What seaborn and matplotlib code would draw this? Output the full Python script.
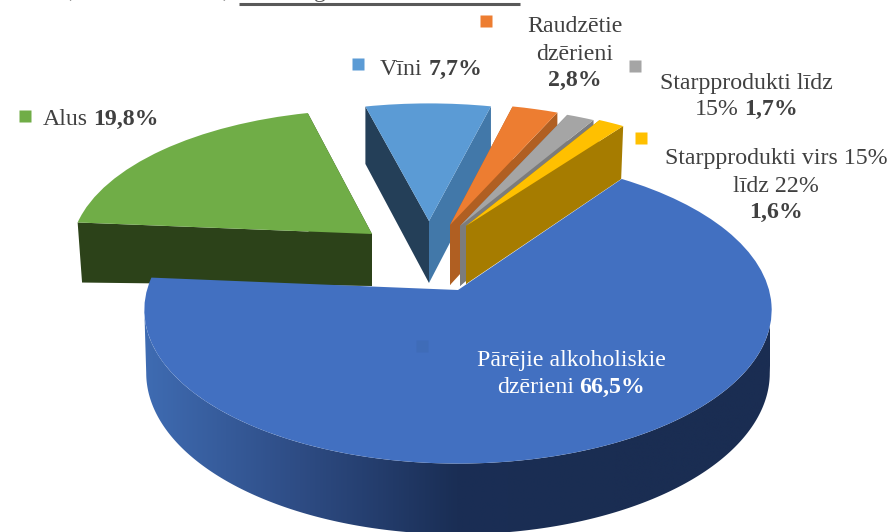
import matplotlib
matplotlib.use("Agg")
import matplotlib.pyplot as plt
import numpy as np
import seaborn as sns
from matplotlib.patches import Polygon
from matplotlib.transforms import Transform

# Shares as printed on the chart, clockwise from the big slice
labels = ["Pārējie alkoholiskie dzērieni", "Alus", "Vīni", "Raudzētie dzērieni",
          "Starpprodukti līdz 15%", "Starpprodukti virs 15% līdz 22%"]
shares = [66.5, 19.8, 7.7, 2.8, 1.7, 1.6]
top_colors = ["#4270c1", "#70ad47", "#5b9bd5", "#ed7d31", "#a5a5a5", "#ffc000"]
wall_lo_colors = ["#2f5597", "#2c4219", "#4278a9", "#b05f22", "#7c7c7c", "#a67c00"]
wall_hi_colors = ["#2f5597", "#2c4219", "#243f58", "#b05f22", "#7c7c7c", "#a67c00"]

# Fake 3D layout, in pixels: where each slice's tip sits and how it is squashed
START_ANGLE = 54.4
TILT = 0.13
RX, RY = 311, 151
TIP_X = [458, 372, 429, 450, 460, 466]
TIP_Y = [290, 234, 221, 225, 226, 226]
SCALE_X = [1.0, 0.96, 0.95, 0.96, 0.96, 0.96]
SCALE_Y = [1.0, 0.93, 0.88, 0.91, 0.90, 0.90]
DEPTH = [62, 52, 62, 60, 60, 58]
BOTTOM_SX = [0.994, 0.985, 1.0, 1.0, 1.0, 0.987]
BOTTOM_SY = [1.05, 0.3, 1.04, 1.04, 1.04, 1.05]
DRAW_ORDER = [1, 2, 3, 4, 5, 0]

TEXT_COLOR = "#404040"
FONT = "Liberation Serif"
FONT_SIZE = 17.2


class SliceProjection(Transform):
    """Unit pie coordinates to pixels, with a little perspective."""
    input_dims = 2
    output_dims = 2

    def __init__(self, tip_x, tip_y, sx, sy):
        super().__init__()
        self.tip = (tip_x, tip_y)
        self.sx = sx
        self.sy = sy

    def transform_non_affine(self, values):
        values = np.asarray(values, dtype=float)
        u, v = values[:, 0], values[:, 1]
        w = 1 + TILT * v
        return np.column_stack((self.tip[0] + self.sx * RX * u / w,
                                self.tip[1] - self.sy * RY * v / w))


def unit(theta_deg):
    t = np.radians(theta_deg)
    return np.column_stack((np.cos(t), np.sin(t)))


def rich_text(ax, cx, y, parts, color=TEXT_COLOR, left=None):
    # one line of regular + bold runs, centred on cx (or starting at left)
    renderer = ax.figure.canvas.get_renderer()
    items = []
    for txt, weight in parts:
        items.append(ax.text(0, y, txt, family=FONT, fontsize=FONT_SIZE, weight=weight,
                             color=color, ha="left", va="center_baseline", zorder=50))
    gap = 5.5
    widths = [it.get_window_extent(renderer).width for it in items]
    total = sum(widths) + gap * (len(items) - 1)
    x = left if left is not None else cx - total / 2
    for it, wd in zip(items, widths):
        it.set_x(x)
        x += wd + gap


sns.set_theme(style="white")
fig = plt.figure(figsize=(8.89, 5.32), dpi=100)
ax = fig.add_axes([0, 0, 1, 1])

wedges, _ = ax.pie(shares, colors=top_colors, startangle=START_ANGLE, counterclock=False,
                   radius=1, wedgeprops={"linewidth": 0})

front_ramp = sns.blend_palette(["#3f6cb3", "#2e4c84", "#1a2e55", "#1a2d52", "#1a2d52"], n_colors=256)

z = 2
for i in DRAW_ORDER:
    wedge = wedges[i]
    top = SliceProjection(TIP_X[i], TIP_Y[i], SCALE_X[i], SCALE_Y[i])
    bottom = SliceProjection(TIP_X[i], TIP_Y[i] + DEPTH[i],
                             SCALE_X[i] * BOTTOM_SX[i], SCALE_Y[i] * BOTTOM_SY[i])
    # cut faces, as plain quads between top and bottom outlines
    if i != 0:
        for theta, col in ((wedge.theta2, wall_hi_colors[i]), (wedge.theta1, wall_lo_colors[i])):
            edge = unit([theta])
            a = top.transform_non_affine(edge)[0]
            b = bottom.transform_non_affine(edge)[0]
            ax.fill([top.tip[0], a[0], b[0], bottom.tip[0]],
                    [top.tip[1], a[1], b[1], bottom.tip[1]], color=col, lw=0, zorder=z)
            z += 1
    else:
        # outer rim only shows on the big slice; only the part facing us, between
        # the two points where the ellipse is widest, so the outline stays simple
        side = np.degrees(np.arcsin(TILT))
        thetas = np.linspace(-180 + side, -side, 300)
        rim_top = top.transform_non_affine(unit(thetas))
        rim_bot = bottom.transform_non_affine(unit(thetas))
        outline = Polygon(np.vstack((rim_top, rim_bot[::-1])), closed=True,
                          transform=ax.transData, fc="none", ec="none")
        ax.add_patch(outline)
        im = ax.imshow(np.array(front_ramp)[None, :, :], extent=(142, 770, 540, 270),
                       aspect="auto", zorder=z, interpolation="bilinear")
        im.set_clip_path(outline)
        z += 1
    wedge.set_transform(top + ax.transData)
    wedge.set_zorder(z)
    z += 1

ax.set_aspect("auto")
ax.set_xlim(0, 889)
ax.set_ylim(532, 0)
ax.set_axis_off()

# legend keys scattered around the pie
key_x = [422, 25, 358, 486, 635, 641]
key_y = [346, 116, 64, 21, 66, 138]
key_colors = ["#3f6cb8"] + top_colors[1:]
for kx, ky, kc in zip(key_x, key_y, key_colors):
    ax.plot([kx], [ky], marker="s", ms=8.6, mfc=kc, mec="none", ls="none", zorder=40)

fig.canvas.draw()
rich_text(ax, 571, 358, [("Pārējie alkoholiskie", "normal")], color="white")
rich_text(ax, 571, 385, [("dzērieni", "normal"), ("66,5%", "bold")], color="white")
rich_text(ax, 0, 117, [("Alus", "normal"), ("19,8%", "bold")], left=43)
rich_text(ax, 0, 67, [("Vīni", "normal"), ("7,7%", "bold")], left=380)
rich_text(ax, 575, 24, [("Raudzētie", "normal")])
rich_text(ax, 575, 52, [("dzērieni", "normal")])
rich_text(ax, 575, 78, [("2,8%", "bold")])
rich_text(ax, 746, 81, [("Starpprodukti līdz", "normal")])
rich_text(ax, 746, 107, [("15%", "normal"), ("1,7%", "bold")])
rich_text(ax, 776, 156, [("Starpprodukti virs 15%", "normal")])
rich_text(ax, 776, 184, [("līdz 22%", "normal")])
rich_text(ax, 776, 210, [("1,6%", "bold")])

# remains of the heading cut off by the crop
ax.plot([239, 520], [4, 4], color="#595959", lw=2.2, solid_capstyle="butt", zorder=30)
for txt, tx in (("(", 64), (")", 222), ("g", 314)):
    ax.text(tx, -3.5, txt, family=FONT, fontsize=FONT_SIZE, color="#595959", va="baseline", zorder=31)

fig.savefig("out.png", dpi=100)
